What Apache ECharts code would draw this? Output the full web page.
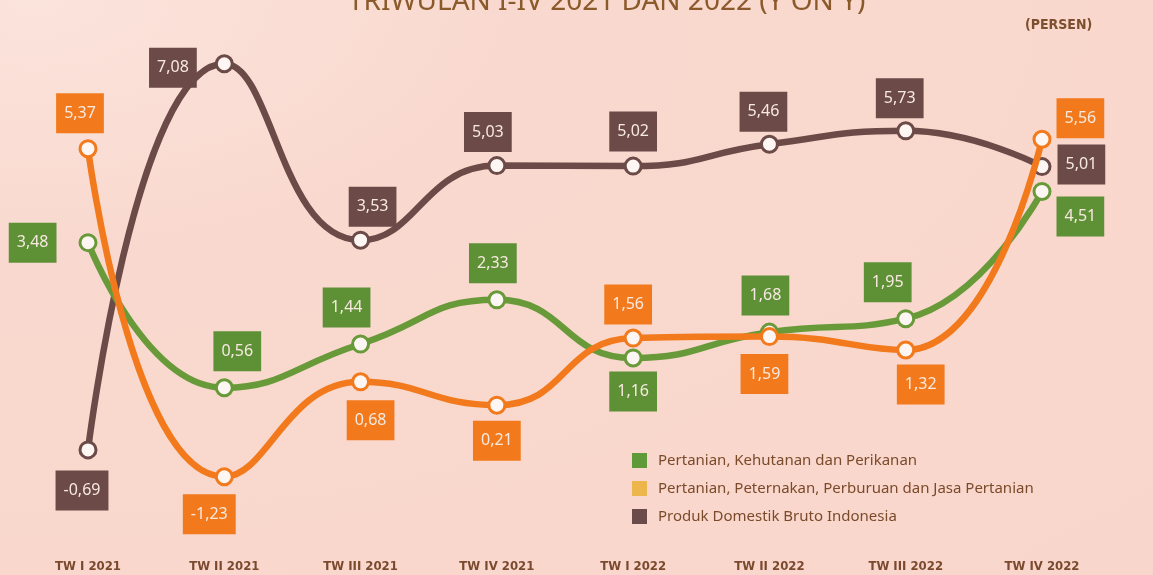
<!DOCTYPE html>
<html>
<head>
<meta charset="utf-8">
<script src="https://cdn.jsdelivr.net/npm/echarts@6/dist/echarts.min.js"></script>
<style>
  html, body {
    margin: 0;
    padding: 0;
    width: 1153px;
    height: 575px;
    overflow: hidden;
    background: radial-gradient(ellipse at 3% 0%, #fbe4dc 0%, #f9d9cf 30%, #f9d6cb 100%);
  }
  #chart {
    width: 1153px;
    height: 575px;
  }
</style>
</head>
<body>
<div id="chart"></div>
<script>
// quarters on the x axis
const quarters = ['TW I 2021', 'TW II 2021', 'TW III 2021', 'TW IV 2021',
  'TW I 2022', 'TW II 2022', 'TW III 2022', 'TW IV 2022'];

// growth y-on-y, percent
const pertanianKehutanan = [3.48, 0.56, 1.44, 2.33, 1.16, 1.68, 1.95, 4.51];
const pertanianPeternakan = [5.37, -1.23, 0.68, 0.21, 1.56, 1.59, 1.32, 5.56];
const pdbIndonesia = [-0.69, 7.08, 3.53, 5.03, 5.02, 5.46, 5.73, 5.01];

const seriesNames = [
  'Pertanian, Kehutanan dan Perikanan',
  'Pertanian, Peternakan, Perburuan dan Jasa Pertanian',
  'Produk Domestik Bruto Indonesia'
];

// where each value box sits around its point: [position, distance, dx, dy]
const greenLabelPos = [['left', 22, 0, 0], ['top', 7, 13, 0], ['top', 7, -14, 0], ['top', 7, -4, 0],
  ['bottom', 4, 0, 0], ['top', 7, -4, 0], ['top', 7, -18, 0], ['right', 5, 0, 25]];
const orangeLabelPos = [['top', 6, -8, 0], ['bottom', 8, -15, 0], ['bottom', 9, 10, 0], ['bottom', 6, 0, 0],
  ['top', 4, -5, 0], ['bottom', 8, -5, 0], ['bottom', 5, 15, 0], ['right', 5, 0, -21]];
const pdbLabelPos = [['bottom', 11, -6, 0], ['left', 18, 0, 4], ['top', 4, 12, 0], ['top', 4, -9, 0],
  ['top', 5, 0, 0], ['top', 3, -6, 0], ['top', 3, -6, 0], ['right', 6, 0, -2]];

const chart = echarts.init(document.getElementById('chart'));

function fmt(v) {
  return v.toFixed(2).replace('.', ',');
}

function buildData(values, positions, boxColor) {
  return values.map((v, i) => {
    const p = positions[i];
    return {
      value: v,
      label: {
        position: p[0],
        distance: p[1],
        offset: [p[2], p[3]],
        backgroundColor: boxColor
      }
    };
  });
}

function makeSeries(name, values, positions, lineColor, boxColor, z) {
  return {
    name: name,
    type: 'line',
    smooth: 0.5,
    z: z,
    data: buildData(values, positions, boxColor),
    symbol: 'circle',
    symbolSize: 16,
    lineStyle: { color: lineColor, width: 6.5 },
    itemStyle: { color: '#fdf6f2', borderColor: lineColor, borderWidth: 3 },
    label: {
      show: true,
      formatter: p => fmt(p.value),
      color: '#f8e9e0',
      fontFamily: 'Noto Sans, sans-serif',
      fontSize: 16,
      lineHeight: 16,
      padding: [12, 8]
    },
    emphasis: { disabled: true }
  };
}

const option = {
  backgroundColor: 'transparent',
  animation: false,
  title: [
    {
      text: 'TRIWULAN I-IV 2021 DAN 2022 (Y ON Y)',
      left: 343,
      top: -17,
      textStyle: { color: '#8b5a2b', fontSize: 28, fontWeight: 'normal', fontFamily: 'Noto Sans, sans-serif' }
    },
    {
      text: '(PERSEN)',
      left: 1020,
      top: 13,
      textStyle: { color: '#7d4f2d', fontSize: 14, fontWeight: 'bold', fontFamily: 'DejaVu Sans Condensed, Noto Sans, sans-serif' }
    }
  ],
  legend: {
    orient: 'vertical',
    left: 627,
    top: 448,
    icon: 'rect',
    itemWidth: 15,
    itemHeight: 15,
    itemGap: 13,
    textStyle: { color: '#7a4a2a', fontSize: 15, fontFamily: 'Noto Sans, sans-serif', padding: [0, 0, 0, 6] },
    data: [
      { name: seriesNames[0], itemStyle: { color: '#5f9a38', borderWidth: 0 } },
      { name: seriesNames[1], itemStyle: { color: '#ecb64c', borderWidth: 0 } },
      { name: seriesNames[2], itemStyle: { color: '#6b4a4a', borderWidth: 0 } }
    ]
  },
  grid: { left: 88, right: 111, top: 18, bottom: 60 },
  xAxis: {
    type: 'category',
    data: quarters,
    boundaryGap: false,
    axisLine: { show: false },
    axisTick: { show: false },
    axisLabel: {
      margin: 45,
      color: '#7b4a2e',
      fontSize: 13,
      fontWeight: 'bold',
      fontFamily: 'DejaVu Sans Condensed, Liberation Sans Narrow, sans-serif'
    },
    splitLine: { show: false }
  },
  yAxis: {
    type: 'value',
    min: -2,
    max: 8,
    show: false,
    splitLine: { show: false }
  },
  series: [
    makeSeries(seriesNames[2], pdbIndonesia, pdbLabelPos, '#6b4a48', '#6b4a48', 2),
    makeSeries(seriesNames[0], pertanianKehutanan, greenLabelPos, '#689a3a', '#5e9036', 3),
    makeSeries(seriesNames[1], pertanianPeternakan, orangeLabelPos, '#f27a1c', '#f27a1c', 4)
  ]
};

chart.setOption(option);
window.addEventListener('resize', () => chart.resize());
</script>
</body>
</html>
